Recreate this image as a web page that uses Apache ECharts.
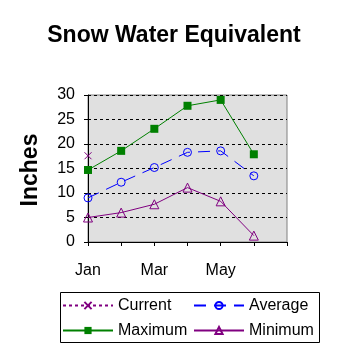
<!DOCTYPE html>
<html><head><meta charset="utf-8">
<script src="https://cdn.jsdelivr.net/npm/echarts@6/dist/echarts.min.js"></script>
<style>html,body{margin:0;padding:0;background:#fff}#c{width:358px;height:358px}</style>
</head><body><div id="c"></div>
<script>
const months = ['Jan','Feb','Mar','Apr','May','Jun','Jul'];
const tickLabels = ['Jan','','Mar','','May','',''];
const current = [17.6, null, null, null, null, null, null];
const average = [9.0, 12.2, 15.2, 18.3, 18.6, 13.5, null];
const maximum = [14.7, 18.6, 23.1, 27.8, 29.0, 17.9, null];
const minimum = [5.0, 6.0, 7.7, 11.1, 8.3, 1.3, null];
const yTicks = [0, 5, 10, 15, 20, 25, 30];

const FONT = "'Liberation Sans', Arial, sans-serif";
const legendText = {fontFamily:FONT, fontSize:16, color:'#000', lineHeight:25};
const chart = echarts.init(document.getElementById('c'), null, {renderer:'canvas'});
chart.setOption({
  animation:false,
  backgroundColor:'#fff',
  textStyle:{fontFamily:FONT},
  graphic:[
    {type:'text', x:174, y:36, style:{text:'Snow Water Equivalent', font:"bold 23px 'Liberation Sans', Arial", fill:'#000', textAlign:'center', textVerticalAlign:'middle'}},
    {type:'text', x:31, y:170, rotation:Math.PI/2, style:{text:'Inches', font:"bold 23px 'Liberation Sans', Arial", fill:'#000', textAlign:'center', textVerticalAlign:'middle'}},
    {type:'rect', shape:{x:60.5, y:292.5, width:259, height:50}, style:{fill:'none', stroke:'#000', lineWidth:1}}
  ],
  grid:{left:88, right:71, top:95, bottom:116, show:true, backgroundColor:'#e0e0e0', borderColor:'#808080', borderWidth:1},
  legend:[
    {data:['Current','Maximum'], orient:'vertical', left:62, top:293, padding:0, itemWidth:50, itemHeight:9, itemGap:0,
     textStyle:legendText},
    {data:['Average','Minimum'], orient:'vertical', left:193, top:293, padding:0, itemWidth:50, itemHeight:9, itemGap:0,
     textStyle:legendText}
  ],
  xAxis:{type:'category', data:months, boundaryGap:false,
    axisLine:{lineStyle:{color:'#000', width:1}},
    axisTick:{show:true, inside:false, length:4, alignWithLabel:true, interval:0, lineStyle:{color:'#000'}},
    axisLabel:{interval:0, margin:21, fontSize:16, color:'#000', fontFamily:FONT,
      formatter:(v, i)=>tickLabels[i]},
    splitLine:{show:false}},
  yAxis:{type:'value', min:yTicks[0], max:yTicks[yTicks.length-1], interval:5,
    axisLine:{show:true, lineStyle:{color:'#000', width:1}},
    axisTick:{show:true, length:4, lineStyle:{color:'#000'}},
    axisLabel:{margin:13, fontSize:16, color:'#000', fontFamily:FONT},
    splitLine:{show:true, lineStyle:{color:'#000', type:[3,3], width:1}}},
  series:[
    {name:'Current', type:'line', data:current, connectNulls:false,
     symbol:'path://M0,0L10,10M10,0L0,10', symbolSize:7, showAllSymbol:true,
     itemStyle:{color:'#800080', borderColor:'#800080', borderWidth:1},
     lineStyle:{color:'#800080', width:1, type:[3,3]}},
    {name:'Average', type:'line', data:average,
     symbol:'circle', symbolSize:8, showAllSymbol:true,
     itemStyle:{color:'rgba(0,0,0,0)', borderColor:'#0000ff', borderWidth:1},
     lineStyle:{color:'#0000ff', width:1, type:[12,8]}},
    {name:'Maximum', type:'line', data:maximum,
     symbol:'rect', symbolSize:8, showAllSymbol:true,
     itemStyle:{color:'#008000'},
     lineStyle:{color:'#008000', width:1}},
    {name:'Minimum', type:'line', data:minimum,
     symbol:'triangle', symbolSize:9, showAllSymbol:true,
     itemStyle:{color:'rgba(0,0,0,0)', borderColor:'#800080', borderWidth:1},
     lineStyle:{color:'#800080', width:1}}
  ]
});
</script></body></html>
